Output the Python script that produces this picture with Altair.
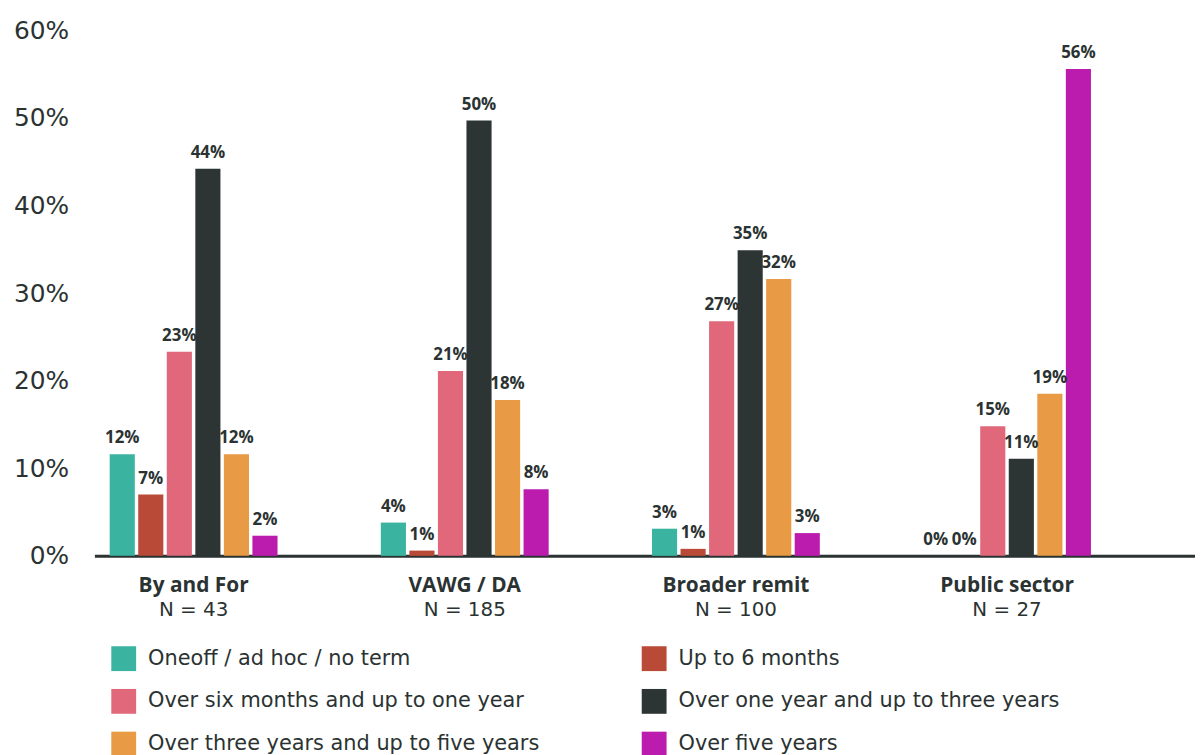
import altair as alt
import pandas as pd

groups = ["By and For", "VAWG / DA", "Broader remit", "Public sector"]
group_n = ["N = 43", "N = 185", "N = 100", "N = 27"]
series = [
    "Oneoff / ad hoc / no term",
    "Up to 6 months",
    "Over six months and up to one year",
    "Over one year and up to three years",
    "Over three years and up to five years",
    "Over five years",
]
colors = ["#3AB3A0", "#B84A37", "#E0687A", "#2C3533", "#E89A44", "#BC1CAE"]

by_and_for = [0.116, 0.070, 0.233, 0.442, 0.116, 0.023]
vawg_da = [0.038, 0.006, 0.211, 0.497, 0.178, 0.076]
broader = [0.031, 0.008, 0.268, 0.349, 0.316, 0.026]
public = [0.0, 0.0, 0.148, 0.111, 0.185, 0.556]

rows = []
for g, vals in zip(groups, [by_and_for, vawg_da, broader, public]):
    for s, v in zip(series, vals):
        rows.append({"group": g, "series": s, "value": v})
df = pd.DataFrame(rows)

FONT = "DejaVu Sans"
BOLD_FONT = "Open Sans"
DARK = "#2B3332"

n_expr = " : ".join(
    f"datum.value == '{g}' ? '{n}'" for g, n in zip(groups, group_n)
) + " : ''"

xscale = alt.Scale(paddingInner=0.381, paddingOuter=0.22, align=0.128)
xoff = alt.XOffset("series:N", sort=series, scale=alt.Scale(paddingInner=0.12, paddingOuter=0))
yenc = alt.Y(
    "value:Q",
    scale=alt.Scale(domain=[0, 0.6], nice=False),
    axis=alt.Axis(
        values=[0, 0.1, 0.2, 0.3, 0.4, 0.5, 0.6],
        format=".0%",
        title=None,
        domain=False,
        ticks=False,
        grid=False,
        labelFontSize=25,
        labelFont=FONT,
        labelColor=DARK,
        labelPadding=26,
    ),
)

base = alt.Chart(df)

bars = base.mark_bar().encode(
    x=alt.X(
        "group:N",
        sort=groups,
        scale=xscale,
        axis=alt.Axis(
            title=None,
            orient="bottom",
            labelAngle=0,
            ticks=False,
            domain=True,
            domainColor=DARK,
            domainWidth=3,
            labelFontSize=21,
            labelFont=BOLD_FONT,
            labelFontWeight="bold",
            labelColor=DARK,
            labelPadding=19,
        ),
    ),
    xOffset=xoff,
    y=yenc,
    color=alt.Color(
        "series:N",
        sort=series,
        scale=alt.Scale(domain=series, range=colors),
        legend=alt.Legend(
            title=None,
            orient="none",
            direction="horizontal",
            legendX=17,
            legendY=620,
            columns=2,
            columnPadding=102,
            rowPadding=18,
            symbolType="square",
            symbolSize=625,
            symbolStrokeWidth=0,
            labelFontSize=21,
            labelFont=FONT,
            labelColor=DARK,
            labelOffset=12,
            labelLimit=600,
            padding=0,
        ),
    ),
)

texts = base.mark_text(
    fontSize=17, font=BOLD_FONT, fontWeight="bold", color=DARK, baseline="bottom", dy=-7
).encode(
    x=alt.X(
        "group:N",
        sort=groups,
        scale=xscale,
        axis=alt.Axis(
            title=None,
            orient="bottom",
            labelAngle=0,
            ticks=False,
            domain=False,
            labelExpr=n_expr,
            labelFontSize=20,
            labelFont=FONT,
            labelFontWeight="normal",
            labelColor=DARK,
            labelPadding=44,
        ),
    ),
    xOffset=xoff,
    y=alt.Y("value:Q"),
    text=alt.Text("value:Q", format=".0%"),
)

chart = (
    alt.layer(bars, texts)
    .resolve_axis(x="independent")
    .properties(
        width=1108,
        height=529,
        padding={"left": 5, "top": 8, "right": 0, "bottom": 5},
    )
    .configure_view(stroke=None)
)

chart.save("out.html", embed_options={"renderer": "svg", "actions": False})
